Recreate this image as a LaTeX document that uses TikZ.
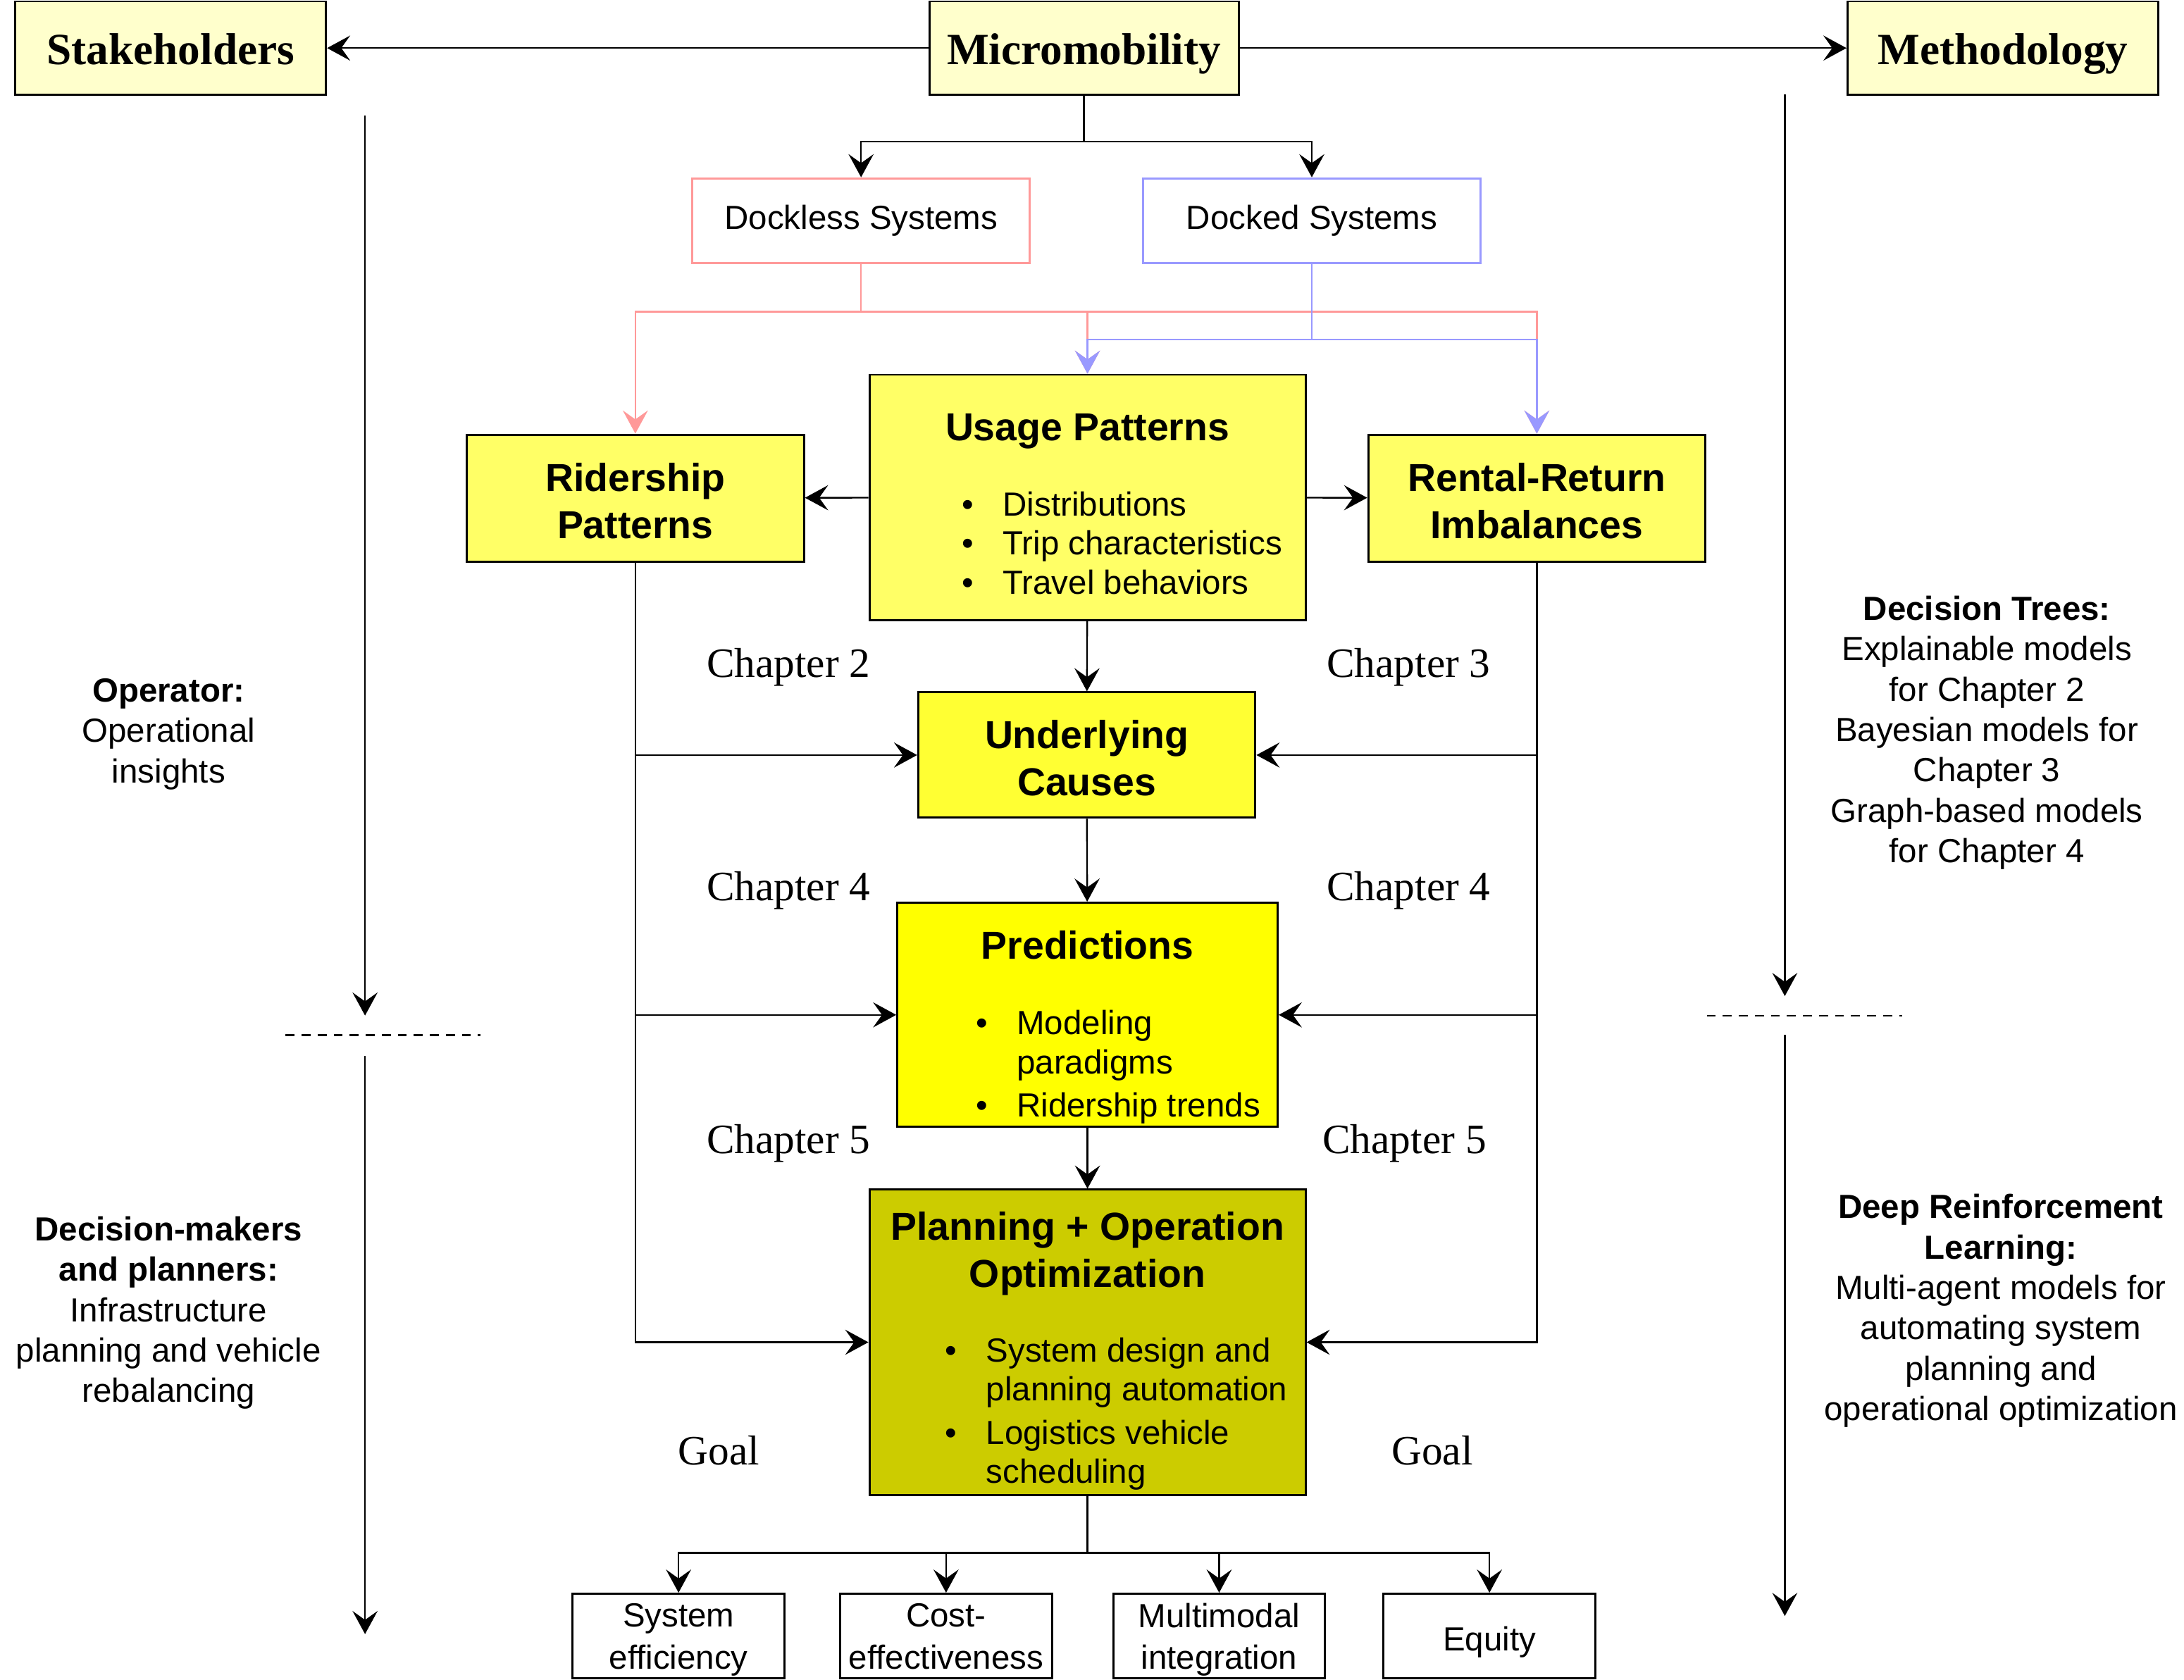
\documentclass[tikz,border=0pt]{standalone}
\usepackage{fontspec}
\setmainfont{Liberation Sans}
\newfontfamily\headfont{Liberation Serif}
\usetikzlibrary{arrows.meta}

\definecolor{paleyellow}{HTML}{FFFFCC}
\definecolor{usageyellow}{HTML}{FFFF66}
\definecolor{causeyellow}{HTML}{FFFF33}
\definecolor{predyellow}{HTML}{FFFF00}
\definecolor{planolive}{HTML}{CCCC00}
\definecolor{docklesspink}{HTML}{FF9999}
\definecolor{dockedblue}{HTML}{9999FF}

\newenvironment{blist}{\begin{tabular}{@{}l@{\hspace{10.5pt}}l@{}}}{\end{tabular}}

\tikzstyle{box}=[
	draw=black,
	line width=0.75pt,
	inner sep=0pt,
	align=center
]
\tikzstyle{head}=[
	box,
	fill=paleyellow,
	minimum width=111.5pt,
	minimum height=33.5pt,
	text height=12pt,
	text depth=0pt,
	font=\headfont\bfseries\fontsize{16}{19}\selectfont
]
\tikzstyle{sys}=[
	box,
	fill=white,
	minimum width=121pt,
	minimum height=30.5pt,
	font=\fontsize{12}{14}\selectfont
]
\tikzstyle{stage}=[
	box
]
\tikzstyle{stitle}=[
	inner sep=0pt,
	align=center,
	font=\bfseries\fontsize{14}{17}\selectfont
]
\tikzstyle{lst}=[
	inner sep=0pt,
	font=\fontsize{12}{14}\selectfont
]
\tikzstyle{goalbox}=[
	box,
	fill=white,
	minimum width=76pt,
	minimum height=30.25pt
]
\tikzstyle{gtext}=[
	inner sep=0pt,
	align=center,
	font=\fontsize{12}{15}\selectfont
]
\tikzstyle{chap}=[
	font=\headfont\fontsize{15}{18}\selectfont
]
\tikzstyle{side}=[
	inner sep=0pt,
	align=center,
	font=\fontsize{12}{14.5}\selectfont
]
\tikzstyle{arr}=[
	-{Stealth[length=8.3pt,width=9pt,inset=3.2pt]},
	line width=0.6pt
]
\tikzstyle{parr}=[
	arr,
	color=docklesspink
]
\tikzstyle{barr}=[
	arr,
	color=dockedblue
]
\tikzstyle{split}=[
	line width=0.6pt,
	dash pattern=on 3.2pt off 2.55pt
]

\begin{document}
\begin{tikzpicture}[x=0.5pt, y=-0.5pt]
\useasboundingbox (0,0) rectangle (1567.5,1205.5);

% top row
\node[head] (stake) at (122.5,34.5) {Stakeholders};
\node[head, minimum width=111pt] (micro) at (778,34.5) {Micromobility};
\node[head] (method) at (1437.5,34.5) {Methodology};
\draw[arr] (micro) -- (stake);
\draw[arr] (micro) -- (method);

% systems
\node[sys, draw=docklesspink] (dockless) at (618,158.5) {Dockless Systems};
\node[sys, draw=dockedblue] (docked) at (941.5,158.5) {Docked Systems};
\draw[arr] (micro.south) -- ++(0,33) -| (dockless.north);
\draw[arr] (micro.south) -- ++(0,33) -| (docked.north);

% stages
\node[stage, fill=usageyellow, minimum width=121pt, minimum height=45.5pt] (rider) at (456,357.5) {};
\node[stitle] (riderT) at (456,359.5) {Ridership\\Patterns};
\node[stage, fill=usageyellow, minimum width=156.5pt, minimum height=88pt] (usage) at (780.5,357) {};
\node[stitle] (usageT) at (780.5,309.5) {Usage Patterns};
\node[lst, anchor=west] (usageL) at (690,392.7) {\begin{blist}
\textbullet & Distributions\\
\textbullet & Trip characteristics\\
\textbullet & Travel behaviors
\end{blist}};
\node[stage, fill=usageyellow, minimum width=121pt, minimum height=45.5pt] (rental) at (1103,357.5) {};
\node[stitle] (rentalT) at (1103,359.5) {Rental-Return\\Imbalances};
\node[stage, fill=causeyellow, minimum width=121pt, minimum height=45pt] (cause) at (780,542) {};
\node[stitle] (causeT) at (780,544) {Underlying\\Causes};
\node[stage, fill=predyellow, minimum width=136.5pt, minimum height=80.5pt] (pred) at (780.5,728.5) {};
\node[stitle] (predT) at (780.5,678.5) {Predictions};
\node[lst, anchor=west] (predL) at (700,766.5) {\begin{blist}
\textbullet & Modeling\\
 & paradigms\\[1.5pt]
\textbullet & Ridership trends
\end{blist}};
\node[stage, fill=planolive, minimum width=156.5pt, minimum height=109.5pt] (plan) at (780.5,963.5) {};
\node[stitle] (planT) at (780.5,900) {Planning + Operation\\Optimization};
\node[lst, anchor=west] (planL) at (678,1015.5) {\begin{blist}
\textbullet & System design and\\
 & planning automation\\[1.5pt]
\textbullet & Logistics vehicle\\
 & scheduling
\end{blist}};

% system links
\foreach \t in {rider,usage,rental}
    \draw[parr] (dockless.south) -- ++(0,34) -| (\t.north);
\foreach \t in {usage,rental}
    \draw[barr] (docked.south) -- ++(0,54) -| (\t.north);

\draw[arr] (usage) -- (rider);
\draw[arr] (usage) -- (rental);
\draw[arr] (usage) -- (cause);
\draw[arr] (cause) -- (pred);
\draw[arr] (pred) -- (plan);

\foreach \t in {cause,pred,plan} {
    \draw[arr] (rider.south) |- (\t.west);
    \draw[arr] (rental.south) |- (\t.east);
}

% chapters
\node[chap] (chA) at (566,479) {Chapter 2};
\node[chap] (chB) at (1011,479) {Chapter 3};
\node[chap] (chC) at (566,639) {Chapter 4};
\node[chap] (chD) at (1011,639) {Chapter 4};
\node[chap] (chE) at (566,821) {Chapter 5};
\node[chap] (chF) at (1008,821) {Chapter 5};
\node[chap] (goalL) at (516,1041) {Goal};
\node[chap] (goalR) at (1028,1041) {Goal};

% goals
\foreach \n/\x/\t in {eff/487/{System\\efficiency},cost/679/{Cost-\\effectiveness},multi/875/{Multimodal\\integration},equity/1069/{Equity}} {
    \node[goalbox] (\n) at (\x,1174.25) {};
    \node[gtext] (\n-t) at (\x,1179) {\t\strut};
    \draw[arr] (plan.south) -- ++(0,41) -| (\n.north);
}

% stakeholders side
\coordinate (stakeA) at (262,83);
\coordinate (stakeB) at (262,729);
\coordinate (stakeC) at (262,758);
\coordinate (stakeD) at (262,1173);
\coordinate (stakeL) at (205,743);
\coordinate (stakeR) at (345,743);
\draw[arr] (stakeA) -- (stakeB);
\draw[arr] (stakeC) -- (stakeD);
\draw[split] (stakeL) -- (stakeR);
\node[side] (operator) at (121,527) {\textbf{Operator:}\\Operational\\insights};
\node[side] (planners) at (121,942.5) {\textbf{Decision-makers}\\\textbf{and planners:}\\Infrastructure\\planning and vehicle\\rebalancing};

% methodology side
\coordinate (methA) at (1281,68);
\coordinate (methB) at (1281,715);
\coordinate (methC) at (1281,743);
\coordinate (methD) at (1281,1160);
\coordinate (methL) at (1225,729);
\coordinate (methR) at (1365,729);
\draw[arr] (methA) -- (methB);
\draw[arr] (methC) -- (methD);
\draw[split] (methL) -- (methR);
\node[side] (trees) at (1426,526) {\textbf{Decision Trees:}\\Explainable models\\for Chapter 2\\Bayesian models for\\Chapter 3\\Graph-based models\\for Chapter 4};
\node[side] (drl) at (1436,941) {\textbf{Deep Reinforcement}\\\textbf{Learning:}\\Multi-agent models for\\automating system\\planning and\\operational optimization};
\end{tikzpicture}
\end{document}
